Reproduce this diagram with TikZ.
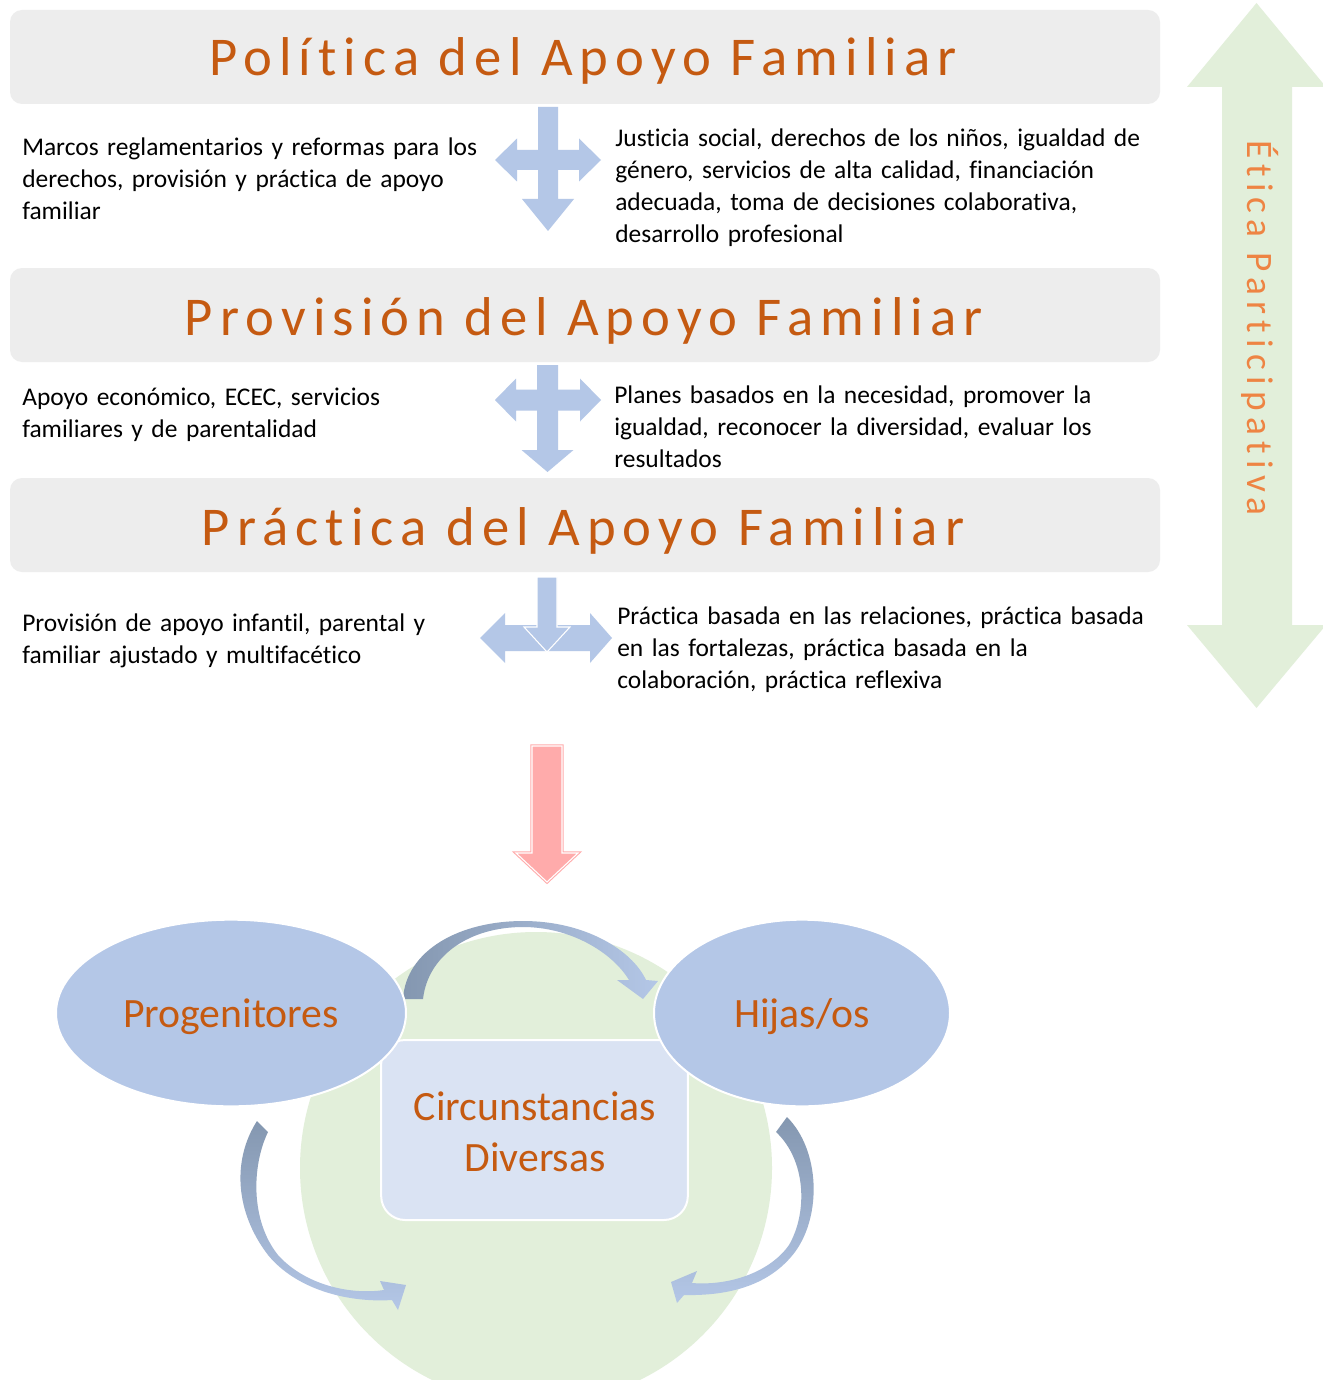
\documentclass[tikz,border=0pt]{standalone}
\usepackage{fontspec}
\setmainfont[Ligatures=NoCommon]{Carlito}
\newfontfamily\titlefont[LetterSpace=13,Ligatures=NoCommon]{Carlito}
\newfontfamily\vertfont[LetterSpace=17,Ligatures=NoCommon]{Carlito}
\usetikzlibrary{shapes.geometric}
\definecolor{titleorange}{HTML}{C55A11}
\definecolor{vertorange}{HTML}{EE8443}
\definecolor{barfill}{HTML}{EDEDED}
\definecolor{crossblue}{HTML}{B4C7E7}
\definecolor{paleGreen}{HTML}{E2EFDA}
\definecolor{ellblue}{HTML}{B4C7E7}
\definecolor{rectblue}{HTML}{DAE3F3}
\definecolor{pinkarrow}{HTML}{FFABAB}
\definecolor{darkarc}{HTML}{8497B0}
\begin{document}
\begin{tikzpicture}[x=0.75pt,y=-0.75pt,
  titlebar/.style={fill=barfill, rounded corners=9pt},
  titletext/.style={font=\titlefont\fontsize{41pt}{48pt}\selectfont, text=titleorange, anchor=base, inner sep=0pt},
  bodytext/.style={font=\fontsize{19.1pt}{24pt}\selectfont, anchor=base west, inner sep=0pt, align=left},
  crossfill/.style={fill=crossblue},
  ellnode/.style={ellipse, fill=ellblue, draw=white, line width=1.5pt, inner sep=0pt},
  bigtext/.style={font=\fontsize{31.3pt}{38pt}\selectfont, text=titleorange, anchor=base, inner sep=0pt}
]
\useasboundingbox (0,0) rectangle (1322,1380);
\fill[white] (0,0) rectangle (1322,1380);

% vertical double arrow
\fill[paleGreen] (1256.5,3) -- (1326,87) -- (1292,87) -- (1292,625) -- (1326,625) -- (1256.5,708) -- (1187,625) -- (1222,625) -- (1222,87) -- (1187,87) -- cycle;
\node[font=\vertfont\fontsize{28pt}{32pt}\selectfont, text=vertorange, rotate=-90, inner sep=0pt] (etica) at (1260,328) {Ética Participativa};

% title bars
\fill[titlebar] (10,10) rectangle (1160,104);
\fill[titlebar] (10,268) rectangle (1160,362);
\fill[titlebar] (10,478) rectangle (1160,572);
\node[titletext] (t1) at (583,76) {Política del Apoyo Familiar};
\node[titletext] (t2) at (584,335) {Provisión del Apoyo Familiar};
\node[titletext] (t3) at (583,545) {Práctica del Apoyo Familiar};

% cross arrows
\fill[crossfill] (495,160) -- (517,138.5) -- (517,150) -- (579,150) -- (579,138.5) -- (601,160) -- (579,181.5) -- (579,170) -- (517,170) -- (517,181.5) -- cycle;
\fill[crossfill] (538,107) -- (558,107) -- (558,199) -- (574,199) -- (548,231) -- (522,199) -- (538,199) -- cycle;

\fill[crossfill] (495,400) -- (516,378.5) -- (516,389.5) -- (580,389.5) -- (580,378.5) -- (601,400) -- (580,421.5) -- (580,410.5) -- (516,410.5) -- (516,421.5) -- cycle;
\fill[crossfill] (537,365) -- (558,365) -- (558,450) -- (573.5,450) -- (547.5,472) -- (521.5,450) -- (537,450) -- cycle;

\fill[crossfill] (480,638) -- (505,613) -- (505,625) -- (590,625) -- (590,613) -- (612,638) -- (590,663) -- (590,651) -- (505,651) -- (505,663) -- cycle;
\filldraw[crossfill, draw=white, line width=0.8pt] (537,577) -- (557,577) -- (557,627) -- (570,627) -- (547,652) -- (524,627) -- (537,627) -- cycle;

% body texts
\node[bodytext, text width=400pt] (l1) at (22,156) {Marcos reglamentarios y reformas para los\\derechos, provisión y práctica de apoyo\\familiar};
\node[bodytext, text width=430pt] (r1) at (615,147) {Justicia social, derechos de los niños, igualdad de\\género, servicios de alta calidad, financiación\\adecuada, toma de decisiones colaborativa,\\desarrollo profesional};
\node[bodytext, text width=400pt] (l2) at (22,405) {Apoyo económico, ECEC, servicios\\familiares y de parentalidad};
\node[bodytext, text width=430pt] (r2) at (614,403) {Planes basados en la necesidad, promover la\\igualdad, reconocer la diversidad, evaluar los\\resultados};
\node[bodytext, text width=400pt] (l3) at (22,631) {Provisión de apoyo infantil, parental y\\familiar ajustado y multifacético};
\node[bodytext, text width=430pt] (r3) at (617,624) {Práctica basada en las relaciones, práctica basada\\en las fortalezas, práctica basada en la\\colaboración, práctica reflexiva};

% red arrow
\filldraw[fill=pinkarrow, draw=pinkarrow, line width=0.8pt, double=white, double distance=0.8pt] (532,746) -- (562,746) -- (562,853) -- (578,853) -- (547,882) -- (516,853) -- (532,853) -- cycle;

% bottom diagram
\fill[paleGreen] (536,1168) circle[radius=236];
\shade[left color=darkarc, right color=ellblue] (403,999) .. controls (406,950) and (460,921) .. (523,921) .. controls (585,921) and (632,950) .. (646,980) -- (658,981) -- (643,999) -- (617,980) -- (629,980) .. controls (612,952) and (570,927) .. (523,927) .. controls (470,927) and (428,955) .. (423,999) -- cycle;

\node[fill=rectblue, draw=white, line width=1.5pt, rounded corners=18pt, minimum width=230pt, minimum height=135pt, inner sep=0pt] (circ) at (534.5,1130) {};
\node[ellnode, minimum width=262.5pt, minimum height=140pt] (prog) at (231,1013) {};
\node[ellnode, minimum width=222pt, minimum height=140pt] (hijas) at (802,1013) {};
\node[bigtext] (progt) at (231,1027) {Progenitores};
\node[bigtext] (hijt) at (802,1027) {Hijas/os};
\node[bigtext] (circt1) at (535,1120) {Circunstancias};
\node[bigtext] (circt2) at (535,1171) {Diversas};

\shade[top color=darkarc, bottom color=ellblue] (257,1121) -- (268,1132) .. controls (252,1165) and (250,1220) .. (278,1255) .. controls (305,1285) and (350,1295) .. (384,1290) -- (380,1281) -- (406,1285) -- (398,1310) -- (392,1300) .. controls (345,1303) and (295,1288) .. (268,1255) .. controls (235,1212) and (232,1160) .. (257,1121) -- cycle;
\shade[top color=darkarc, bottom color=ellblue] (787,1117) .. controls (820,1150) and (822,1215) .. (795,1252) .. controls (770,1285) and (730,1296) .. (684,1295) -- (677,1303) -- (671,1282) -- (697,1271) -- (692,1283) .. controls (730,1286) and (770,1272) .. (789,1245) .. controls (808,1212) and (806,1160) .. (776,1132) -- cycle;
\end{tikzpicture}
\end{document}
